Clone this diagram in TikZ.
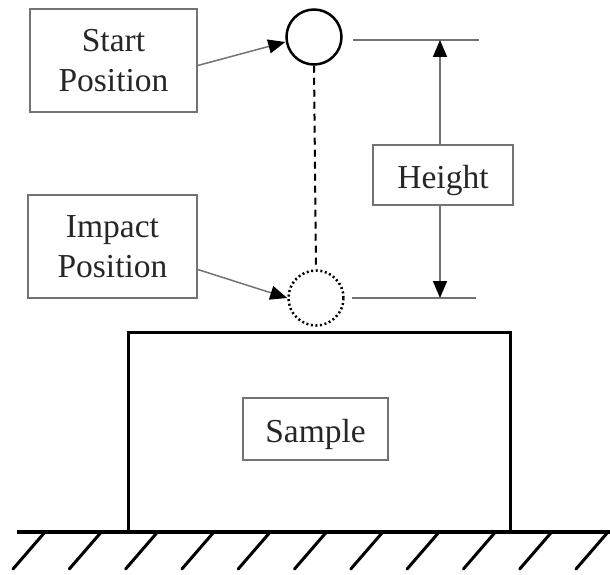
\documentclass[tikz,border=0pt]{standalone}
\usepackage{fontspec}
\setmainfont{Liberation Serif}
\usetikzlibrary{arrows.meta, positioning}

\begin{document}
\begin{tikzpicture}[x=1pt, y=-1pt,
  lbl/.style={draw=black!55, line width=1.5pt, text=black!85, font=\fontsize{33.5}{40}\selectfont, align=center, inner sep=0pt},
  pointer/.style={draw=black!55, line width=1.5pt, -{Triangle[length=17pt, width=14pt, color=black]}},
  ball/.style={circle, draw, line width=2.5pt, minimum size=55pt, inner sep=0pt},
  extline/.style={draw=black!55, line width=1.5pt},
  dimarrow/.style={draw=black!55, line width=1.5pt, -{Triangle[length=17pt, width=14pt, color=black]}}]
\useasboundingbox (0,0) rectangle (610,575);

% Ball positions
\node[ball] (start) at (314,37) {};
\node[ball, dash pattern=on 2pt off 2.6pt] (impact) at (316,298) {};
\draw[line width=2pt, dash pattern=on 7pt off 5pt] (start.south) -- (impact.north);

% Labels
\node[lbl, minimum width=167pt, minimum height=103pt] (startlbl) at (113.5,60.5) {Start\\Position};
\node[lbl, minimum width=169pt, minimum height=103pt] (impactlbl) at (112.5,246.5) {Impact\\Position};
\draw[pointer] ([yshift=-5pt]startlbl.east) -- ([yshift=-5pt]start.west);
\draw[pointer] ([yshift=-23pt]impactlbl.east) -- (impact.west);

% Height dimension
\coordinate (toptick) at (440,40);
\coordinate (bottick) at (440,298);
\draw[extline] ([xshift=10pt]start.east |- toptick) -- ++(126,0);
\draw[extline] ([xshift=7pt]impact.east |- bottick) -- ++(124,0);
\node[lbl, minimum width=140pt, minimum height=60pt, text height=31pt, text depth=5pt] (height) at (443,175) {Height};
\draw[dimarrow] (height.north -| toptick) -- (toptick);
\draw[dimarrow] (height.south -| bottick) -- (bottick);

% Sample on the ground
\draw[line width=3pt] (128,532) |- (510,332) -- (510,532);
\node[lbl, minimum width=145pt, minimum height=62pt, text height=31pt, text depth=5pt] (sample) at (315.5,429) {Sample};
\draw[line width=4pt] (17,532) -- (610,532);
\foreach \i in {0,...,10}
  \draw[line width=3pt, line cap=round] (45+56.3*\i,532) -- ++(-32,37);
\end{tikzpicture}
\end{document}
